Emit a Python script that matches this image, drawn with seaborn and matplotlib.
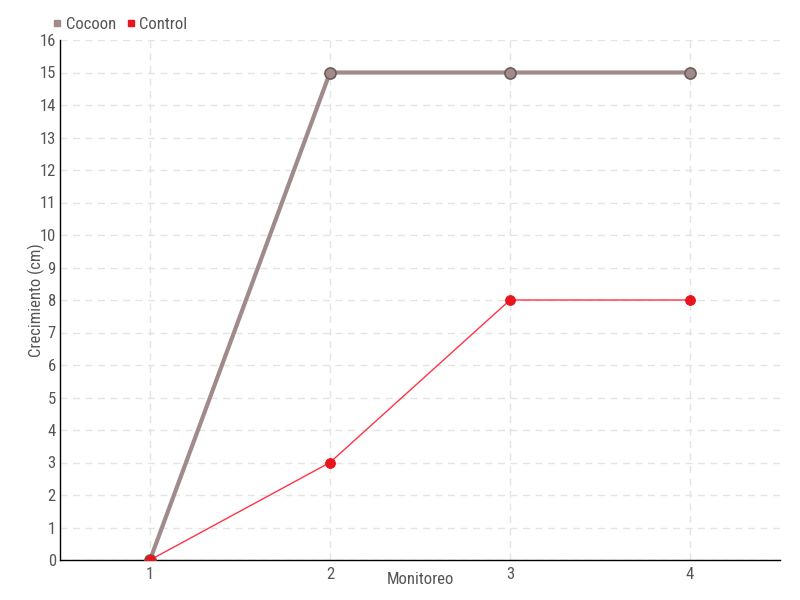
import matplotlib
matplotlib.use("Agg")
import matplotlib.pyplot as plt
import seaborn as sns
import pandas as pd
from matplotlib.lines import Line2D
from matplotlib import font_manager

monitoreo = [1, 2, 3, 4]
cocoon = [0, 15, 15, 15]
control = [0, 3, 8, 8]
y_ticks = list(range(0, 17))

sns.set_style("white")

# narrow font if one is installed, otherwise DejaVu
installed = {f.name for f in font_manager.fontManager.ttflist}
narrow = [n for n in ['Liberation Sans Narrow', 'DejaVu Sans Condensed', 'Roboto Condensed']
          if n in installed]
plt.rcParams['font.family'] = narrow + ['DejaVu Sans']
if not narrow:
    plt.rcParams['font.stretch'] = 'condensed'
fs = 12 if narrow else 10
text_col = '#555555'

df = pd.DataFrame({'Monitoreo': monitoreo * 2,
                   'Crecimiento': cocoon + control,
                   'Serie': ['Cocoon'] * 4 + ['Control'] * 4})

fig = plt.figure(figsize=(8, 6), dpi=100)
ax = fig.add_axes([60 / 800, 40 / 600, 720 / 800, 520 / 600])

sns.lineplot(data=df[df.Serie == 'Cocoon'], x='Monitoreo', y='Crecimiento', ax=ax,
             color='#a08a8a', linewidth=3, marker='o', markersize=8,
             markerfacecolor='#a08a8a', markeredgecolor='#6e5c5c', markeredgewidth=1.2,
             zorder=3)
sns.lineplot(data=df[df.Serie == 'Control'], x='Monitoreo', y='Crecimiento', ax=ax,
             color='#ff3344', linewidth=1, marker='o', markersize=7,
             markerfacecolor='#e8141e', markeredgecolor='#e8141e', zorder=4)

ax.set_xlim(0.5, 4.5)
ax.set_ylim(0, 16)
ax.set_xticks(monitoreo)
ax.set_yticks(y_ticks)
ax.grid(True, color='#e4e4e4', linestyle=(0, (5, 4)), linewidth=1)
for s in ['top', 'right']:
    ax.spines[s].set_visible(False)
for s in ['left', 'bottom']:
    ax.spines[s].set_color('black')
    ax.spines[s].set_linewidth(1)
ax.tick_params(axis='both', colors='#444444', labelcolor=text_col, labelsize=fs,
               length=4, width=1, pad=1)
ax.tick_params(axis='y', direction='inout')
ax.set_xlabel('Monitoreo', color=text_col, fontsize=fs)
ax.set_ylabel('Crecimiento (cm)', color=text_col, fontsize=fs)
ax.xaxis.set_label_coords(0.5, -0.024)
ax.yaxis.set_label_coords(-0.021, 0.5)

handles = [Line2D([], [], linestyle='none', marker='s', markersize=5, color='#a08a8a'),
           Line2D([], [], linestyle='none', marker='s', markersize=5, color='#e8141e')]
fig.legend(handles, ['Cocoon', 'Control'], loc='upper left', bbox_to_anchor=(44 / 800, 1 - 10 / 600),
           ncol=2, frameon=False, handletextpad=0.1, columnspacing=0.5, handlelength=0.8,
           labelcolor=text_col, fontsize=fs, borderaxespad=0)

fig.savefig('out.png', dpi=100)
